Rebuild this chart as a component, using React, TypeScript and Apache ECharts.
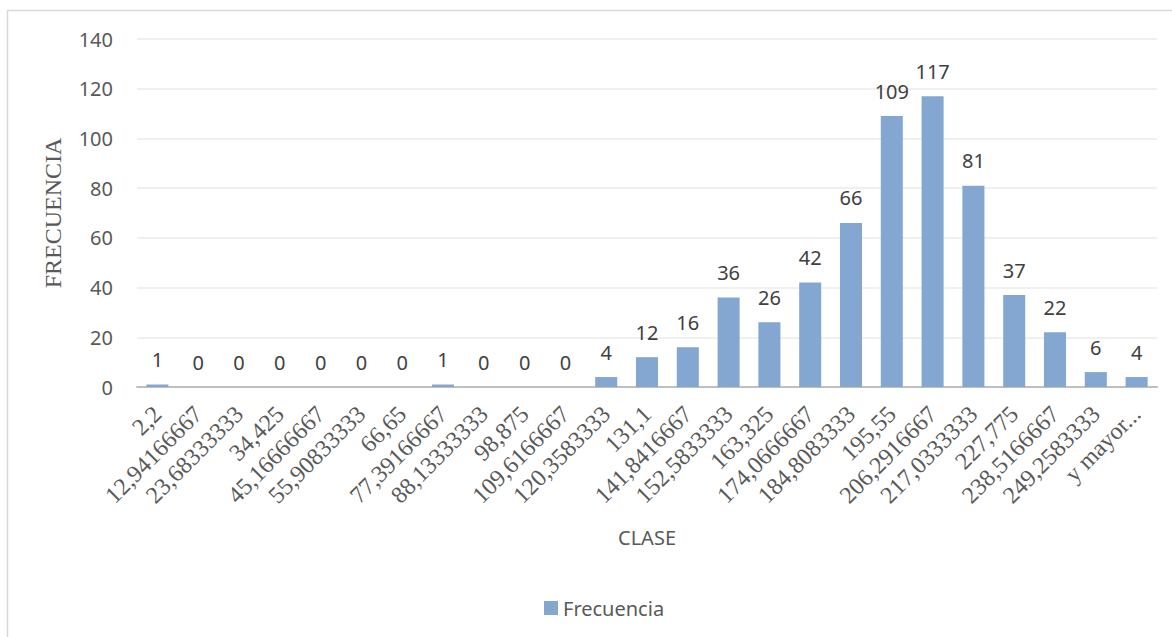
import React, { useEffect, useRef } from "react";
import * as echarts from "echarts";

const categories: string[] = [
  "2,2", "12,94166667", "23,68333333", "34,425", "45,16666667", "55,90833333",
  "66,65", "77,39166667", "88,13333333", "98,875", "109,6166667", "120,3583333",
  "131,1", "141,8416667", "152,5833333", "163,325", "174,0666667", "184,8083333",
  "195,55", "206,2916667", "217,0333333", "227,775", "238,5166667", "249,2583333",
  "y mayor...",
];
const frecuencia: number[] = [
  1, 0, 0, 0, 0, 0, 0, 1, 0, 0, 0, 4, 12, 16, 36, 26, 42, 66, 109, 117, 81, 37, 22, 6, 4,
];
const yTicks = { min: 0, max: 140, interval: 20 };

const SANS = "Noto Sans";
const SERIF = "Liberation Serif";
const TEXT = "#595959";
const BAR = "#84a7d2";

export default function App() {
  const ref = useRef<HTMLDivElement>(null);
  useEffect(() => {
    if (!ref.current) return;
    const chart = echarts.init(ref.current, null, { renderer: "svg" });
    chart.setOption({
      animation: false,
      backgroundColor: "#ffffff",
      graphic: [
        {
          type: "rect",
          shape: { x: 7.5, y: 10.5, width: 1300, height: 800 },
          style: { fill: "none", stroke: "#d9d9d9", lineWidth: 1.5 },
          silent: true,
        },
      ],
      grid: { left: 137, right: 15, top: 39, bottom: 250, containLabel: false },
      legend: {
        data: ["Frecuencia"],
        left: 539,
        top: 593,
        itemWidth: 14,
        itemHeight: 14,
        itemGap: 10,
        icon: "rect",
        textStyle: { fontFamily: SANS, fontSize: 20, color: TEXT, padding: [0, 0, 0, 0] },
      },
      xAxis: {
        type: "category",
        data: categories,
        name: "CLASE",
        nameLocation: "middle",
        nameGap: 140,
        nameTextStyle: { fontFamily: SANS, fontSize: 20, color: TEXT },
        axisLine: { lineStyle: { color: "#bfbfbf", width: 2 } },
        axisTick: { show: false },
        axisLabel: {
          interval: 0,
          rotate: 45,
          margin: 23,
          fontFamily: SERIF,
          fontSize: 24,
          color: TEXT,
        },
      },
      yAxis: {
        type: "value",
        min: yTicks.min,
        max: yTicks.max,
        interval: yTicks.interval,
        name: "FRECUENCIA",
        nameLocation: "middle",
        nameGap: 72,
        nameTextStyle: { fontFamily: SERIF, fontSize: 24, color: TEXT },
        axisLine: { show: false },
        axisTick: { show: false },
        axisLabel: { fontFamily: SANS, fontSize: 20, color: TEXT, margin: 24 },
        splitLine: { lineStyle: { color: "#ebebeb", width: 1.5 } },
      },
      series: [
        {
          name: "Frecuencia",
          type: "bar",
          data: frecuencia,
          barCategoryGap: "46%",
          itemStyle: { color: BAR },
          label: {
            show: true,
            position: "top",
            distance: 15,
            fontFamily: SANS,
            fontSize: 20,
            color: "#404040",
          },
        },
      ],
    });
    return () => chart.dispose();
  }, []);
  return (
    <div
      ref={ref}
      style={{ position: "fixed", left: 0, top: 0, width: 1172, height: 637 }}
    />
  );
}
